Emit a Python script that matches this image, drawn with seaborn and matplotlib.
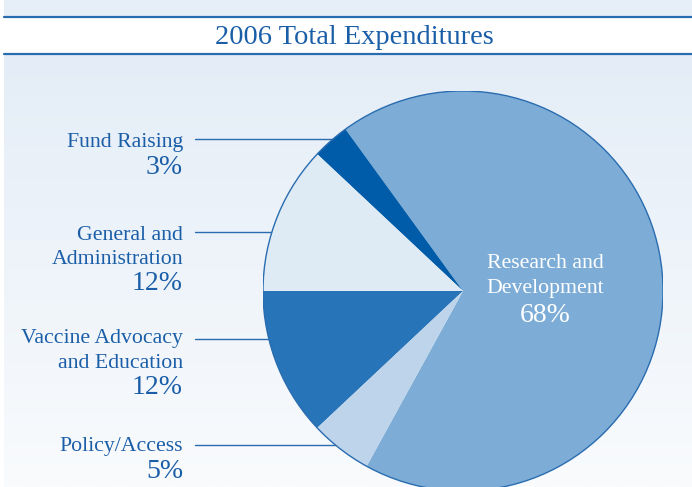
import numpy as np
import matplotlib
matplotlib.use("Agg")
import matplotlib.pyplot as plt
import seaborn as sns
from matplotlib.patches import Rectangle, Circle
from matplotlib.colors import LinearSegmentedColormap

# ---- data ----
title = "2006 Total Expenditures"
categories = ["Research and\nDevelopment", "Fund Raising", "General and\nAdministration",
              "Vaccine Advocacy\nand Education", "Policy/Access"]
values = [68, 3, 12, 12, 5]
pct_labels = ["68%", "3%", "12%", "12%", "5%"]
colors = ["#7dadd6", "#005ca8", "#deebf5", "#2874b8", "#bdd4ea"]

sns.set_theme(style="white")
plt.rcParams['font.family'] = ['Liberation Serif', 'DejaVu Serif']

W, H = 692, 487
fig = plt.figure(figsize=(W / 100, H / 100), dpi=100)
fig.patch.set_facecolor("white")

# background axes in pixel coordinates
bg = fig.add_axes([0, 0, 1, 1])
bg.set_xlim(0, W)
bg.set_ylim(H, 0)
bg.axis("off")
grad = np.linspace(0, 1, 256).reshape(-1, 1)
cmap = LinearSegmentedColormap.from_list("bgc", ["#e4edf7", "#f9fbfd"])
bg.imshow(grad, cmap=cmap, extent=(4, W, H, 54), aspect="auto", zorder=0)
bg.add_patch(Rectangle((4, 0), W - 4, 16, facecolor="#e6eef7", edgecolor="none", zorder=1))
bg.plot([4, W], [16.5, 16.5], color="#2a6cb0", lw=1.6, zorder=2)
bg.plot([4, W], [53.5, 53.5], color="#2a6cb0", lw=1.6, zorder=2)
bg.text(354, 37, title, ha="center", va="center", fontsize=20.5, color="#1a5ea8", zorder=3)

# pie axes
cx, cy, R = 463, 291, 200
ax = fig.add_axes([(cx - R) / W, (H - cy - R) / H, 2 * R / W, 2 * R / H])
ax.set_facecolor("none")
start = 180 + 3.6 * (values[3] + values[4])
wedges, _ = ax.pie(values, colors=colors, startangle=start, counterclock=True,
                   wedgeprops=dict(linewidth=0, edgecolor="none", antialiased=True))
ax.add_patch(Circle((0, 0), 1, facecolor="none", edgecolor="#2a6cb0", lw=1.0))
ax.set_xlim(-1, 1)
ax.set_ylim(-1, 1)
ax.set_aspect("equal")
ax.axis("off")

# labels on the left with leader lines
txtc = "#1a5ea8"
label_specs = [
    (1, [143], 167, 139),
    (2, [236, 259], 283, 232),
    (3, [339, 363], 387, 339),
    (4, [447], 471, 445),
]
for idx, ys, py, ly in label_specs:
    lines = categories[idx].split("\n")
    for t, y in zip(lines, ys):
        bg.text(183, y, t, ha="right", va="center", fontsize=15.7, color=txtc, zorder=5)
    bg.text(183, py, pct_labels[idx], ha="right", va="center", fontsize=20, color=txtc, zorder=5)
    xe = cx - np.sqrt(R ** 2 - (ly - cy) ** 2)
    bg.plot([195, xe], [ly, ly], color="#2a6cb0", lw=1.0, zorder=4)

# research label inside
for t, y in zip(categories[0].split("\n"), [263, 288]):
    ax.text((545 - cx) / R, (cy - y) / R, t, ha="center", va="center", fontsize=15.7, color="white")
ax.text((545 - cx) / R, (cy - 315) / R, pct_labels[0], ha="center", va="center", fontsize=20, color="white")

fig.savefig("out.png", dpi=100)
